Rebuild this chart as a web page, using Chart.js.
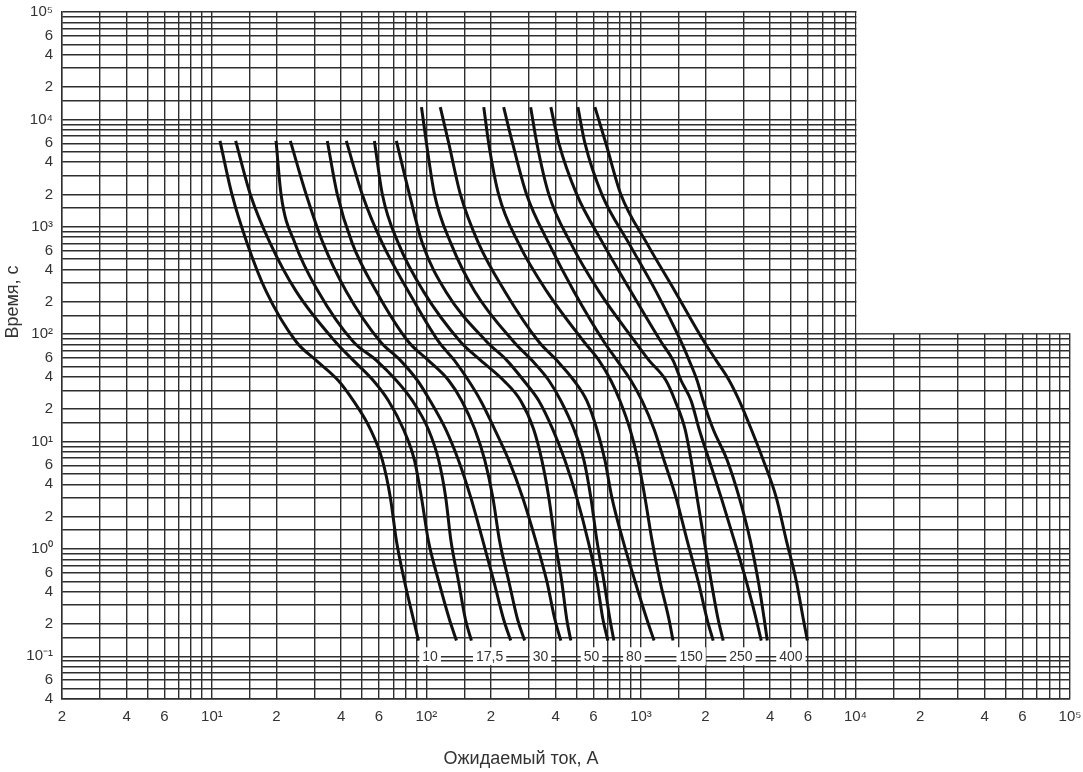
<!DOCTYPE html>
<html lang="ru">
<head>
<meta charset="UTF-8">
<title>Время-токовые характеристики</title>
<style>
  body { margin: 0; background: #fff; }
  #wrap { width: 1083px; height: 772px; }
</style>
</head>
<body>
<div id="wrap"><canvas id="chart" width="1083" height="772"></canvas></div>
<script src="https://cdn.jsdelivr.net/npm/chart.js"></script>
<script>
// время (с), на котором снимались точки кривых
const timesLow = [6300, 2000, 700, 250, 85, 57, 37, 24, 13, 6.7, 3, 1.2, 0.5, 0.22, 0.14];
const timesHigh = [13000, 6000, 2000, 700, 250, 85, 57, 37, 24, 13, 6.7, 3, 1.2, 0.5, 0.22, 0.14];

// ожидаемый ток (А): пары кривых (мин / макс) для каждого номинала
const i10a = [10.9, 12.4, 14.6, 17.9, 24.7, 30.6, 38.8, 45.6, 54.8, 62.3, 67.9, 72.4, 79.0, 87.0, 91.8];
const i10b = [12.9, 15.1, 18.7, 24.7, 37.6, 45.6, 56.5, 66.5, 78.1, 87.9, 94.8, 102, 114, 128, 138];
const i17a = [19.9, 21.0, 24.4, 31.3, 45.6, 58.4, 72.4, 86.0, 102, 114, 123, 130, 141, 152, 162];
const i17b = [23.2, 27.5, 33.0, 42.3, 61.0, 75.6, 90.8, 104, 123, 141, 161, 183, 206, 229, 247];
const i30a = [34.5, 38.4, 45.1, 58.4, 82.4, 102, 127, 146, 168, 187, 204, 219, 242, 266, 287];
const i30b = [42.3, 50.2, 62.3, 82.4, 114, 135, 157, 179, 208, 242, 281, 323, 364, 397, 423];
const i50a = [57.2, 62.3, 74.0, 96.8, 144, 179, 229, 275, 316, 345, 372, 397, 427, 451, 471];
const i50b = [72.4, 83.3, 95.8, 123, 191, 237, 284, 334, 388, 442, 502, 566, 623, 665, 701];
const i80a = [94.8, 100, 109, 130, 168, 255, 310, 372, 423, 487, 542, 584, 623, 672, 717, 748];
const i80b = [116, 127, 144, 175, 232, 334, 405, 487, 559, 623, 679, 732, 824, 938, 1066, 1151];
const i150a = [185, 195, 217, 269, 364, 542, 637, 724, 798, 889, 968, 1044, 1126, 1227, 1351, 1411];
const i150b = [229, 252, 293, 372, 487, 672, 773, 898, 1011, 1151, 1281, 1457, 1641, 1847, 2035, 2171];
const i250a = [306, 327, 372, 471, 637, 938, 1090, 1308, 1442, 1606, 1713, 1827, 1970, 2124, 2290, 2418];
const i250b = [380, 414, 502, 665, 898, 1240, 1411, 1538, 1713, 1867, 2079, 2366, 2721, 3096, 3447, 3637];
const i400a = [508, 548, 657, 879, 1175, 1538, 1677, 1827, 1949, 2171, 2523, 2872, 3232, 3523, 3757, 3880];
const i400b = [610, 686, 806, 1066, 1442, 1970, 2241, 2578, 2872, 3266, 3717, 4274, 4760, 5300, 5716, 5967];

// подписи номиналов внизу и где они стоят (ток, А / время, с)
const ratingLabels = ['10', '17,5', '30', '50', '80', '150', '250', '400'];
const ratingLabelCurrent = [104, 197, 340, 588, 927, 1713, 2924, 5000];
const ratingLabelTime = 0.1;

// подписи делений осей
const xLabelValues = [2, 4, 6, 10, 20, 40, 60, 100, 200, 400, 600, 1000, 2000, 4000, 6000, 1e4, 2e4, 4e4, 6e4, 1e5];
const xLabelTexts = ['2', '4', '6', '10\u00B9', '2', '4', '6', '10\u00B2', '2', '4', '6', '10\u00B3',
  '2', '4', '6', '10\u2074', '2', '4', '6', '10\u2075'];
const yLabelValues = [0.04, 0.06, 0.1, 0.2, 0.4, 0.6, 1, 2, 4, 6, 10, 20, 40, 60, 100, 200, 400, 600,
  1000, 2000, 4000, 6000, 1e4, 2e4, 4e4, 6e4, 1e5];
const yLabelTexts = ['4', '6', '10\u207B\u00B9', '2', '4', '6', '10\u2070', '2', '4', '6', '10\u00B9',
  '2', '4', '6', '10\u00B2', '2', '4', '6', '10\u00B3', '2', '4', '6', '10\u2074', '2', '4', '6', '10\u2075'];

const gridMant = [1, 1.5, 2, 3, 4, 5, 6, 7, 8, 9];

function gridValues(lo, hi) {
  const out = [];
  for (let e = Math.floor(Math.log10(lo)); e <= Math.ceil(Math.log10(hi)); e++) {
    gridMant.forEach(m => {
      const v = +(m * Math.pow(10, e)).toPrecision(6);
      if (v >= lo * 0.999 && v <= hi * 1.001) out.push(v);
    });
  }
  return out;
}

function labelFor(v, values, texts) {
  const i = values.findIndex(a => Math.abs(a - v) / a < 1e-6);
  return i < 0 ? '' : texts[i];
}

function curve(currents, times) {
  return currents.map((c, k) => ({ x: c, y: times[k] }));
}

const curves = [
  curve(i10a, timesLow), curve(i10b, timesLow),
  curve(i17a, timesLow), curve(i17b, timesLow),
  curve(i30a, timesLow), curve(i30b, timesLow),
  curve(i50a, timesLow), curve(i50b, timesLow),
  curve(i80a, timesHigh), curve(i80b, timesHigh),
  curve(i150a, timesHigh), curve(i150b, timesHigh),
  curve(i250a, timesHigh), curve(i250b, timesHigh),
  curve(i400a, timesHigh), curve(i400b, timesHigh)
];

const FONT = '"Liberation Sans", Arial, sans-serif';
const GRID = '#2e2e2e';
Chart.defaults.font.family = FONT;
Chart.defaults.color = '#333';

// верхний правый угол сетки пустой
const cornerMask = {
  id: 'cornerMask',
  beforeDatasetsDraw(chart) {
    const { ctx, scales: { x, y } } = chart;
    const px = x.getPixelForValue(1e4);
    const py = y.getPixelForValue(100);
    ctx.save();
    ctx.fillStyle = '#fff';
    ctx.fillRect(px + 1, 0, chart.width - px, py - 1);
    ctx.restore();
  }
};

const ratingTags = {
  id: 'ratingTags',
  afterDatasetsDraw(chart) {
    const { ctx, scales: { x, y } } = chart;
    ctx.save();
    ctx.font = '14px ' + FONT;
    ctx.textAlign = 'center';
    ctx.textBaseline = 'middle';
    ratingLabels.forEach((txt, i) => {
      const cx = x.getPixelForValue(ratingLabelCurrent[i]);
      const cy = y.getPixelForValue(ratingLabelTime);
      const w = ctx.measureText(txt).width + 6;
      ctx.fillStyle = '#fff';
      ctx.fillRect(cx - w / 2, cy - 9, w, 18);
      ctx.fillStyle = '#333';
      ctx.fillText(txt, cx, cy + 1);
    });
    ctx.restore();
  }
};

const axisTitles = {
  id: 'axisTitles',
  afterDraw(chart) {
    const ctx = chart.ctx;
    ctx.save();
    ctx.font = '18px ' + FONT;
    ctx.fillStyle = '#333';
    ctx.textAlign = 'center';
    ctx.textBaseline = 'middle';
    ctx.fillText('Ожидаемый ток, А', 521, 759);
    ctx.translate(13, 302);
    ctx.rotate(-Math.PI / 2);
    ctx.fillText('Время, с', 0, 0);
    ctx.restore();
  }
};

new Chart(document.getElementById('chart'), {
  type: 'line',
  data: {
    datasets: curves.map(pts => ({
      data: pts,
      borderColor: '#111',
      borderWidth: 3,
      pointRadius: 0,
      fill: false,
      cubicInterpolationMode: 'monotone'
    }))
  },
  options: {
    responsive: false,
    animation: false,
    layout: { padding: { top: 12, right: 13, left: 0, bottom: 0 } },
    plugins: { legend: { display: false }, tooltip: { enabled: false } },
    scales: {
      x: {
        type: 'logarithmic',
        min: 2,
        max: 1e5,
        afterBuildTicks: s => { s.ticks = gridValues(2, 1e5).map(v => ({ value: v })); },
        afterFit: s => { s.height = 73; s.paddingLeft = 0; s.paddingRight = 0; },
        grid: { color: GRID, lineWidth: 1.4, drawTicks: false },
        border: { color: GRID, width: 1.4 },
        ticks: {
          autoSkip: false,
          maxRotation: 0,
          padding: 9,
          font: { size: 15 },
          callback: v => labelFor(v, xLabelValues, xLabelTexts)
        }
      },
      y: {
        type: 'logarithmic',
        min: 0.04,
        max: 1e5,
        afterBuildTicks: s => { s.ticks = gridValues(0.04, 1e5).map(v => ({ value: v })); },
        afterFit: s => { s.width = 62; s.paddingTop = 0; s.paddingBottom = 0; },
        grid: { color: GRID, lineWidth: 1.4, drawTicks: false },
        border: { color: GRID, width: 1.4 },
        ticks: {
          autoSkip: false,
          padding: 9,
          font: { size: 15 },
          callback: v => labelFor(v, yLabelValues, yLabelTexts)
        }
      }
    }
  },
  plugins: [cornerMask, ratingTags, axisTitles]
});
</script>
</body>
</html>
